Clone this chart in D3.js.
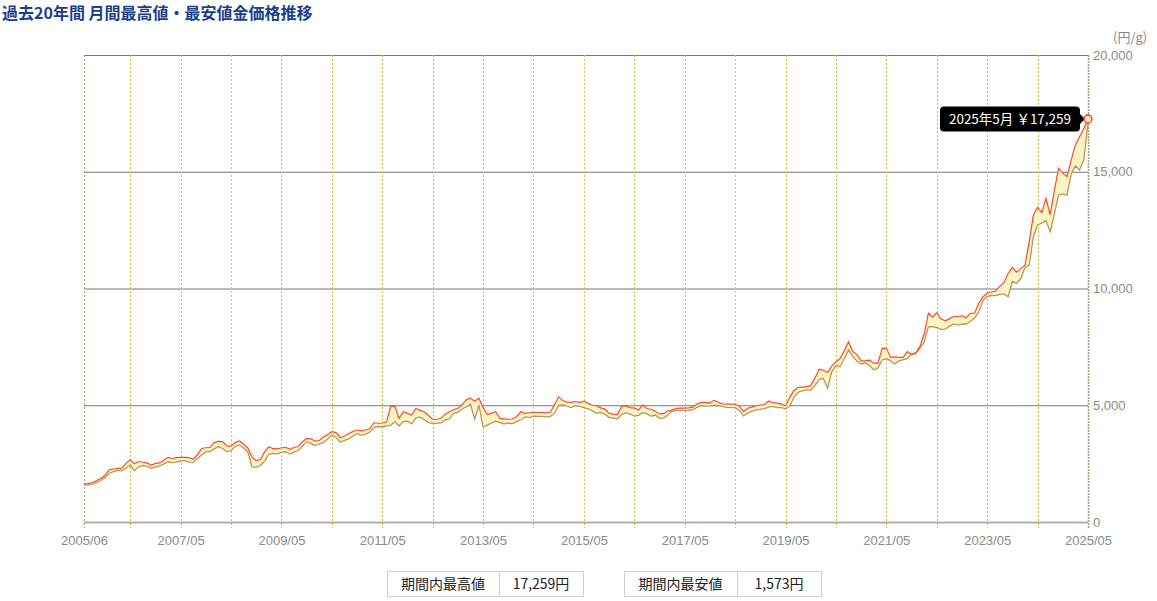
<!DOCTYPE html>
<html><head><meta charset="utf-8">
<script src="https://cdn.jsdelivr.net/npm/d3@7/dist/d3.min.js"></script>
<style>
body{margin:0;background:#fff;}
svg{display:block;font-family:"Liberation Sans","Noto Sans CJK JP",sans-serif;}
</style></head><body>
<svg id="c" width="1157" height="601"></svg>
<script>
// Monthly data: index 0 = 2005/06 ... index 239 = 2025/05
const highs = [
 1630,1645,1690,1780,1860,2000,2230,
 2270,2300,2310,2510,2660,2490,2590,2560,2530,2430,2510,2530,
 2640,2770,2720,2760,2770,2770,2760,2690,2880,3150,3180,3200,
 3400,3450,3440,3260,3250,3400,3470,3330,3170,2780,2630,2680,
 3000,3220,3140,3130,3180,3200,3110,3190,3230,3440,3580,3560,
 3470,3490,3640,3750,3870,3830,3610,3680,3790,3870,3940,3900,
 3940,3990,4250,4230,4240,4280,4950,4960,4440,4720,4650,4580,
 4860,4780,4720,4560,4400,4390,4450,4620,4720,4820,4860,5030,
 5230,5300,5170,5300,4900,4600,4660,4720,4440,4420,4400,4410,
 4520,4720,4650,4680,4700,4690,4700,4680,4700,5020,5360,5200,
 5130,5120,5160,5110,5180,5080,5000,4980,4890,4840,4650,4620,
 4600,4950,4970,4900,4880,4800,5010,4860,4830,4740,4630,4640,
 4760,4790,4870,4880,4880,4890,4930,5060,5120,5110,5100,5210,
 5130,5060,5050,5050,5040,4960,4740,4870,4920,4980,5010,5020,
 5180,5110,5090,5050,4980,5340,5630,5760,5780,5800,5840,6160,
 6540,6500,6400,6680,6860,7000,7340,7720,7300,7170,6900,6900,
 6930,6800,6790,7440,7450,7060,7070,7050,7050,7300,7170,7220,
 7520,8050,8940,8770,8950,8700,8620,8700,8800,8800,8830,8750,
 8940,8940,9370,9650,9800,9850,9880,10100,10250,10650,10900,10700,
 10850,11000,12000,13150,13480,13250,13860,13150,14200,15150,14950,14790,
 15500,16150,16500,16850,17259
];
const lows = [
 1573,1590,1620,1690,1790,1900,2080,
 2160,2210,2190,2300,2440,2190,2360,2410,2380,2300,2350,2400,
 2490,2580,2540,2560,2620,2630,2560,2550,2720,2870,3000,3010,
 3130,3230,3150,3010,3050,3240,3300,3180,3000,2360,2340,2420,
 2600,2900,2940,2920,2980,3010,2910,2990,3060,3250,3440,3370,
 3270,3340,3400,3560,3720,3620,3420,3500,3560,3680,3780,3720,
 3750,3850,4040,4090,4080,4120,4140,4300,4110,4300,4320,4200,
 4450,4500,4380,4260,4230,4220,4240,4370,4420,4650,4690,4840,
 4930,5040,4400,5000,4080,4150,4240,4320,4260,4200,4230,4210,
 4300,4380,4500,4470,4530,4520,4520,4500,4520,4650,5000,5010,
 4960,4900,4990,4950,4900,4850,4760,4650,4690,4610,4480,4450,
 4420,4600,4680,4620,4540,4570,4680,4640,4530,4580,4440,4450,
 4580,4740,4780,4780,4770,4780,4810,4920,4980,4960,4970,5000,
 4980,4950,4910,4900,4900,4780,4540,4660,4740,4800,4820,4860,
 4920,4950,4900,4900,4850,4960,5340,5550,5620,5660,5640,5840,
 6100,6150,5730,6430,6700,6650,7000,7370,7080,6900,6770,6820,
 6700,6510,6600,6940,7000,6900,6770,6900,6950,7000,7190,7250,
 7440,7700,8360,8370,8330,8250,8260,8380,8480,8430,8470,8480,
 8600,8720,9000,9500,9650,9700,9700,9750,9770,9650,10300,10220,
 10430,10900,11000,12220,12720,12800,12900,12430,13200,14000,14050,14000,
 14900,15250,15080,15500,17100
];
const xTickLabels = ["2005/06","2007/05","2009/05","2011/05","2013/05","2015/05","2017/05","2019/05","2021/05","2023/05","2025/05"];
const yTicks = [0,5000,10000,15000,20000];
const titleText = "過去20年間 月間最高値・最安値金価格推移";
const unitText = "(円/g)";
const tooltipLabel = "2025年5月";
const summaryLabels = ["期間内最高値","期間内最安値"];
const summaryValues = ["17,259円","1,573円"];

const svg = d3.select("#c");
const L=84, R=1088, T=55, B=522;
const n = highs.length;
const x = d3.scaleLinear().domain([0,n-1]).range([L,R]);
const y = d3.scaleLinear().domain([0,20000]).range([B,T]);

// title
svg.append("text").attr("x",2).attr("y",19).attr("fill","#1b3f8c")
  .attr("font-size",16).attr("font-weight","bold")
  .attr("font-family","'Noto Sans CJK JP',sans-serif").text(titleText);

// horizontal grid
svg.append("g").selectAll("line").data(yTicks.filter(d=>d>0)).join("line")
  .attr("x1",L).attr("x2",R).attr("y1",d=>y(d)+0.5).attr("y2",d=>y(d)+0.5)
  .attr("stroke","#777").attr("stroke-width",1);

// vertical dotted year lines
const vIdx = d3.range(11,n-1,12);
svg.append("g").selectAll("line").data(vIdx).join("line")
  .attr("x1",d=>Math.round(x(d))+0.5).attr("x2",d=>Math.round(x(d))+0.5)
  .attr("y1",T).attr("y2",B+6)
  .attr("stroke","#e2bf3a").attr("stroke-width",1).attr("stroke-dasharray","2,2");

// frame edges
svg.append("line").attr("x1",L+0.5).attr("x2",L+0.5).attr("y1",T).attr("y2",B+6)
  .attr("stroke","#b0a070").attr("stroke-width",1.2).attr("stroke-dasharray","2,2");
svg.append("line").attr("x1",R+0.5).attr("x2",R+0.5).attr("y1",T).attr("y2",B+6)
  .attr("stroke","#a89a7a").attr("stroke-width",1.5).attr("stroke-dasharray","2,1");
svg.append("line").attr("x1",L).attr("x2",R).attr("y1",B+0.5).attr("y2",B+0.5)
  .attr("stroke","#b0b0b0").attr("stroke-width",2);

// area between
const data = d3.range(n).map(i=>({i,h:highs[i],l:lows[i]}));
svg.append("path").datum(data)
  .attr("d",d3.area().x(d=>x(d.i)).y0(d=>y(d.l)).y1(d=>y(d.h)))
  .attr("fill","#fbf4c4");
svg.append("path").datum(data)
  .attr("d",d3.line().x(d=>x(d.i)).y(d=>y(d.l)))
  .attr("fill","none").attr("stroke","#b8985a").attr("stroke-width",1.3);
svg.append("path").datum(data)
  .attr("d",d3.line().x(d=>x(d.i)).y(d=>y(d.h)))
  .attr("fill","none").attr("stroke","#ff4a2a").attr("stroke-width",1.2);

// y axis labels (right)
const yAxis = d3.axisRight(y).tickValues(yTicks).tickSize(0).tickPadding(5)
  .tickFormat(d3.format(","));
const gy = svg.append("g").attr("transform",`translate(${R},0)`).call(yAxis);
gy.select(".domain").remove();
gy.selectAll("text").attr("fill","#8a8a8a").attr("font-size",13)
  .attr("font-family","'Liberation Sans',Arial,sans-serif");

svg.append("text").attr("x",1113).attr("y",42).attr("fill","#8a8a8a")
  .attr("font-size",13).attr("font-family","'Noto Sans CJK JP',sans-serif")
  .text(unitText);

// x axis labels
const xAxis = d3.axisBottom(x).tickValues([0].concat(d3.range(23,n,24)))
  .tickSize(0).tickPadding(14).tickFormat((d,k)=>xTickLabels[k]);
const gx = svg.append("g").attr("transform",`translate(0,${B})`).call(xAxis);
gx.select(".domain").remove();
gx.selectAll("text").attr("fill","#8a8a8a").attr("font-size",13)
  .attr("font-family","'Liberation Sans',Arial,sans-serif");

// last point marker + tooltip
const li = n-1, px = x(li), py = y(highs[li]);
const tipW = 140, tipH = 25;
const tx = px - 8 - tipW, ty = py - tipH/2;
svg.append("rect").attr("x",tx).attr("y",ty).attr("width",tipW).attr("height",tipH)
  .attr("rx",4).attr("fill","#000");
svg.append("path").attr("d",`M${tx+tipW},${py-5} L${px-3},${py} L${tx+tipW},${py+5} Z`).attr("fill","#000");
svg.append("text").attr("x",tx+tipW/2).attr("y",py+4.5).attr("text-anchor","middle")
  .attr("fill","#fff").attr("font-size",13.5)
  .attr("font-family","'Noto Sans CJK JP',sans-serif")
  .text(tooltipLabel + " ￥" + d3.format(",")(highs[li]));
svg.append("circle").attr("cx",px).attr("cy",py).attr("r",4)
  .attr("fill","#f8efb0").attr("stroke","#ff3020").attr("stroke-width",1.3);

// summary tables
const boxes = [{x:387,w1:112,w2:84},{x:624,w1:113,w2:84}];
boxes.forEach((b,k)=>{
  const g = svg.append("g");
  const yy=571, hh=25;
  g.append("rect").attr("x",b.x+0.5).attr("y",yy+0.5).attr("width",b.w1+b.w2).attr("height",hh)
    .attr("fill","#fff").attr("stroke","#cfcfcf");
  g.append("line").attr("x1",b.x+b.w1+0.5).attr("x2",b.x+b.w1+0.5).attr("y1",yy).attr("y2",yy+hh)
    .attr("stroke","#cfcfcf");
  g.append("text").attr("x",b.x+b.w1/2).attr("y",yy+18).attr("text-anchor","middle")
    .attr("font-size",14).attr("fill","#222").attr("font-family","'Noto Sans CJK JP',sans-serif")
    .text(summaryLabels[k]);
  g.append("text").attr("x",b.x+b.w1+b.w2/2).attr("y",yy+18).attr("text-anchor","middle")
    .attr("font-size",14).attr("fill","#222").attr("font-family","'Noto Sans CJK JP',sans-serif")
    .text(summaryValues[k]);
});
</script></body></html>
